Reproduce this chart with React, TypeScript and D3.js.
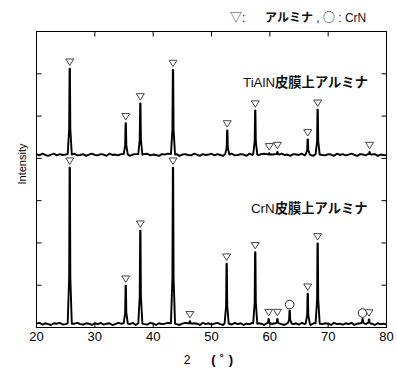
import React from "react";
import * as d3 from "d3";

// ---- data ----
const X_TICKS = [20, 30, 40, 50, 60, 70, 80];
const Y_TICKS = [1, 2, 3, 4, 5, 6];

// peaks: [2θ, peak top intensity, marker] ; marker "a" = alumina ▽, "c" = CrN ○
const TOP_BASE = 4.08;
const TOP_PEAKS: [number, number, string][] = [
  [25.7, 6.12, "a"],
  [35.3, 4.83, "a"],
  [37.8, 5.3, "a"],
  [43.4, 6.09, "a"],
  [52.7, 4.66, "a"],
  [57.5, 5.13, "a"],
  [59.9, 4.12, "a"],
  [61.3, 4.15, "a"],
  [66.5, 4.45, "a"],
  [68.2, 5.15, "a"],
  [77.1, 4.15, "a"],
];
const BOT_BASE = 0.08;
const BOT_PEAKS: [number, number, string][] = [
  [25.7, 3.78, "a"],
  [35.3, 0.99, "a"],
  [37.8, 2.29, "a"],
  [43.4, 3.78, "a"],
  [46.3, 0.15, "a"],
  [52.6, 1.51, "a"],
  [57.5, 1.78, "a"],
  [59.8, 0.2, "a"],
  [61.3, 0.2, "a"],
  [63.4, 0.4, "c"],
  [66.5, 0.8, "a"],
  [68.2, 1.99, "a"],
  [75.9, 0.2, "c"],
  [77.0, 0.19, "a"],
];
// baseline noise every 0.5° from 20°
const TOP_NOISE = [0.02,-0.01,0.03,0.0,-0.02,0.01,0.03,-0.01,0.02,0.0,0.01,-0.02,0.02,0.03,-0.01,0.0,0.02,-0.02,0.01,0.03,0.0,-0.01,0.02,0.01,-0.02,0.03,0.0,0.01,-0.01,0.02,0.0,0.03,-0.02,0.01,0.02,-0.01,0.0,0.02,0.03,-0.01,0.01,0.0,-0.02,0.02,0.01,0.03,-0.01,0.0,0.02,-0.02,0.01,0.02,0.0,-0.01,0.03,0.01,-0.02,0.02,0.0,0.01,0.03,-0.01,0.02,0.0,-0.02,0.01,0.02,0.03,-0.01,0.0,0.02,0.01,-0.02,0.03,0.0,0.01,-0.01,0.02,0.03,0.0,-0.02,0.01,0.02,-0.01,0.03,0.0,0.01,-0.02,0.02,0.01,0.0,0.03,-0.01,0.02,0.0,-0.02,0.01,0.03,0.0,-0.01,0.02,0.01,-0.02,0.03,0.0,0.02,-0.01,0.01,0.03,0.0,-0.02,0.02,0.01,-0.01,0.03,0.0,0.02,-0.02,0.01,0.0,-0.01];
const BOT_NOISE = [0.01,0.03,-0.01,0.02,0.0,-0.02,0.02,0.01,0.03,-0.01,0.0,0.02,-0.02,0.01,0.03,0.0,-0.01,0.02,0.01,-0.02,0.02,0.0,0.03,-0.01,0.01,0.02,-0.02,0.0,0.03,0.01,-0.01,0.02,0.0,0.03,-0.02,0.01,0.02,0.0,-0.01,0.03,0.01,-0.02,0.02,0.0,0.01,0.03,-0.01,0.02,0.0,-0.02,0.01,0.03,0.0,-0.01,0.02,0.01,-0.02,0.03,0.0,0.02,-0.01,0.01,0.03,0.0,-0.02,0.02,0.01,-0.01,0.03,0.0,0.02,-0.02,0.01,0.0,0.03,-0.01,0.02,0.01,-0.02,0.0,0.03,0.01,-0.01,0.02,0.0,-0.02,0.03,0.01,0.0,0.02,-0.01,0.03,0.0,0.01,-0.02,0.02,0.03,-0.01,0.0,0.02,0.01,-0.02,0.03,0.0,0.01,-0.01,0.02,0.0,0.03,-0.02,0.01,0.02,-0.01,0.0,0.03,0.01,-0.02,0.02,0.0,0.01,-0.01];

const W = 397, H = 369;
const M = { left: 36.5, right: 386.5, top: 31.5, bottom: 327.5 };

const FONT = "'Liberation Sans', Arial, sans-serif";
const CJK = "'Noto Sans CJK JP', sans-serif";

function tracePoints(base: number, noise: number[], peaks: [number, number, string][]) {
  const pts: [number, number][] = [];
  noise.forEach((n, i) => {
    const x = 20 + i * 0.5;
    if (peaks.some((p) => Math.abs(p[0] - x) < 0.45)) return;
    pts.push([x, base + n]);
  });
  peaks.forEach(([p, h]) => {
    const d = h - base;
    pts.push([p - 0.35, base + 0.02]);
    pts.push([p - 0.1, base + d * 0.3]);
    pts.push([p - 0.03, h]);
    pts.push([p + 0.03, h]);
    pts.push([p + 0.1, base + d * 0.3]);
    pts.push([p + 0.35, base + 0.01]);
  });
  return pts.sort((a, b) => a[0] - b[0]);
}

export default function App() {
  const x = d3.scaleLinear().domain([20, 80]).range([M.left, M.right]);
  const y = d3.scaleLinear().domain([0, 7]).range([M.bottom, M.top]);
  const line = d3
    .line<[number, number]>()
    .x((d) => x(d[0]))
    .y((d) => y(d[1]));

  const traces = [
    { base: TOP_BASE, noise: TOP_NOISE, peaks: TOP_PEAKS },
    { base: BOT_BASE, noise: BOT_NOISE, peaks: BOT_PEAKS },
  ];

  const tri = (cx: number, cy: number) =>
    `M${cx - 4},${cy - 3.2}L${cx + 4},${cy - 3.2}L${cx},${cy + 3.2}Z`;

  return (
    <svg width={W} height={H} style={{ display: "block", position: "absolute", left: 0, top: 0 }}>
      <rect x={0} y={0} width={W} height={H} fill="#fff" />
      {/* traces */}
      {traces.map((t, i) => (
        <path
          key={i}
          d={line(tracePoints(t.base, t.noise, t.peaks)) || ""}
          fill="none"
          stroke="#000"
          strokeWidth={1.9}
          strokeLinejoin="round"
        />
      ))}
      {/* markers */}
      {traces.map((t, i) =>
        t.peaks.map(([p, h, m], j) =>
          m === "a" ? (
            <path key={`m${i}-${j}`} d={tri(x(p), y(h) - 6.5)} fill="#fff" stroke="#444" strokeWidth={1} />
          ) : (
            <circle key={`m${i}-${j}`} cx={x(p)} cy={y(h) - 6} r={4.3} fill="#fff" stroke="#222" strokeWidth={1} />
          )
        )
      )}
      {/* frame */}
      <rect x={M.left} y={M.top} width={M.right - M.left} height={M.bottom - M.top} fill="none" stroke="#000" strokeWidth={1} />
      {/* x ticks */}
      {X_TICKS.map((v) => (
        <g key={`xt${v}`}>
          <line x1={x(v)} x2={x(v)} y1={M.top} y2={M.top + 5} stroke="#000" />
          <line x1={x(v)} x2={x(v)} y1={M.bottom} y2={M.bottom - 5} stroke="#000" />
          <text x={x(v)} y={341} textAnchor="middle" fontFamily={FONT} fontSize={13} fill="#000">
            {v}
          </text>
        </g>
      ))}
      {/* y ticks */}
      {Y_TICKS.map((v) => (
        <g key={`yt${v}`}>
          <line x1={M.left} x2={M.left + 5} y1={y(v)} y2={y(v)} stroke="#000" />
          <line x1={M.right} x2={M.right - 5} y1={y(v)} y2={y(v)} stroke="#000" />
        </g>
      ))}
      {/* axis titles */}
      <text x={187} y={363.5} textAnchor="middle" fontFamily={FONT} fontSize={12} fill="#000">2</text>
      <text x={213.5} y={363.5} textAnchor="middle" fontFamily={FONT} fontSize={13} fontWeight={700} fill="#000">(</text>
      <text x={222} y={363.5} textAnchor="middle" fontFamily={FONT} fontSize={13} fontWeight={700} fill="#000">˚</text>
      <text x={231} y={363.5} textAnchor="middle" fontFamily={FONT} fontSize={13} fontWeight={700} fill="#000">)</text>
      <text
        transform={`translate(26,164) rotate(-90)`}
        textAnchor="middle"
        fontFamily={FONT}
        fontSize={11}
        fill="#000"
      >
        Intensity
      </text>
      {/* trace labels */}
      <text x={243} y={87} fontSize={13.3} fill="#111">
        <tspan fontFamily={FONT}>TiAlN</tspan>
        <tspan fontFamily={CJK} fontWeight={700}>皮膜上アルミナ</tspan>
      </text>
      <text x={251} y={213} fontSize={13.3} fill="#111">
        <tspan fontFamily={FONT}>CrN</tspan>
        <tspan fontFamily={CJK} fontWeight={700}>皮膜上アルミナ</tspan>
      </text>
      {/* legend title */}
      <text x={230} y={22} fontSize={12} fill="#111">
        <tspan fontFamily={CJK} fill="#444">▽</tspan>
        <tspan fontFamily={FONT}>:</tspan>
      </text>
      <text x={265} y={22} fontSize={12} fill="#111">
        <tspan fontFamily={CJK} fontWeight={700}>アルミナ</tspan>
        <tspan fontFamily={FONT}> , </tspan>
        <tspan fontFamily={CJK}>○</tspan>
        <tspan fontFamily={FONT}> : CrN</tspan>
      </text>
    </svg>
  );
}
